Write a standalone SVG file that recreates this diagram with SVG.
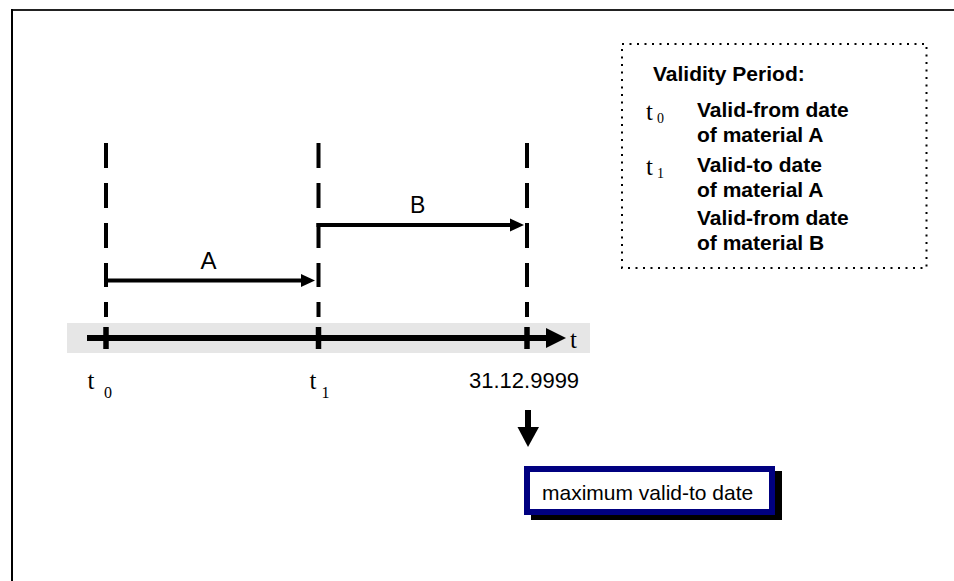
<svg xmlns="http://www.w3.org/2000/svg" width="954" height="581" viewBox="0 0 954 581">
<defs>
<style>
.dash{fill:none;stroke:#000;stroke-width:4}
.sans{font-family:"Liberation Sans",Arial,sans-serif;fill:#000}
.bold{font-family:"Liberation Sans",Arial,sans-serif;font-weight:bold;font-size:21px;fill:#000}
.ser{font-family:"Liberation Serif","Times New Roman",serif;fill:#000}
</style>
<path id="dl" d="M0 143V168M0 183V208M0 223V248M0 263V287M0 302V317M0 327V348"/>
</defs>
<rect width="954" height="581" fill="#fff"/>
<g id="frame">
<line x1="11" y1="10" x2="954" y2="10" stroke="#222" stroke-width="2"/>
<line x1="12" y1="9" x2="12" y2="581" stroke="#000" stroke-width="2"/>
</g>
<g id="axis-band">
<rect x="67" y="323" width="523" height="30" fill="#e6e6e6"/>
</g>
<g id="connectors">
<use href="#dl" x="106" class="dash"/>
<use href="#dl" x="318.5" class="dash"/>
<use href="#dl" x="527" class="dash"/>
<line x1="106" y1="327" x2="106" y2="349" stroke="#000" stroke-width="5.5"/>
<line x1="318.5" y1="327" x2="318.5" y2="349" stroke="#000" stroke-width="5.5"/>
<line x1="527" y1="327" x2="527" y2="349" stroke="#000" stroke-width="5.5"/>
<line x1="87" y1="338" x2="548" y2="338" stroke="#000" stroke-width="6"/>
<polygon points="546,328 566,338 546,348" fill="#000"/>
<line x1="106" y1="280.5" x2="303" y2="280.5" stroke="#000" stroke-width="4"/>
<polygon points="301,274 315,280.5 301,287" fill="#000"/>
<line x1="316.5" y1="225" x2="512" y2="225" stroke="#000" stroke-width="4"/>
<polygon points="510,218.5 524,225 510,231.5" fill="#000"/>
<rect x="525" y="410" width="6" height="18" fill="#000"/>
<polygon points="517.5,427 539,427 528,447" fill="#000"/>
</g>
<g id="labels">
<text class="sans" x="200.5" y="269" font-size="24">A</text>
<text class="sans" x="410" y="213" font-size="23">B</text>
<text class="ser" x="570" y="348" font-size="25">t</text>
<text class="ser" x="87.5" y="389" font-size="25">t<tspan x="104" y="398" font-size="16">0</tspan></text>
<text class="ser" x="309.5" y="389" font-size="25">t<tspan x="321.5" y="398" font-size="16">1</tspan></text>
<text class="sans" x="469" y="388" font-size="22">31.12.9999</text>
</g>
<g id="legend">
<rect x="622" y="44" width="304.5" height="224" fill="none" stroke="#000" stroke-width="2" stroke-dasharray="2 5.5"/>
<text class="bold" x="653" y="81">Validity Period:</text>
<text class="ser" x="646" y="120" font-size="25">t<tspan x="657" y="123" font-size="14">0</tspan></text>
<text class="bold" x="697" y="117">Valid-from date</text>
<text class="bold" x="697" y="142">of material A</text>
<text class="ser" x="646" y="175" font-size="25">t<tspan x="657" y="178" font-size="14">1</tspan></text>
<text class="bold" x="697" y="172">Valid-to date</text>
<text class="bold" x="697" y="197">of material A</text>
<text class="bold" x="697" y="225">Valid-from date</text>
<text class="bold" x="697" y="250">of material B</text>
</g>
<g id="max-box">
<rect x="531" y="471" width="251" height="49" fill="#000"/>
<rect x="527" y="469" width="245" height="43" fill="#fff" stroke="#000080" stroke-width="6"/>
<text class="sans" x="542" y="500" font-size="21">maximum valid-to date</text>
</g>
</svg>
